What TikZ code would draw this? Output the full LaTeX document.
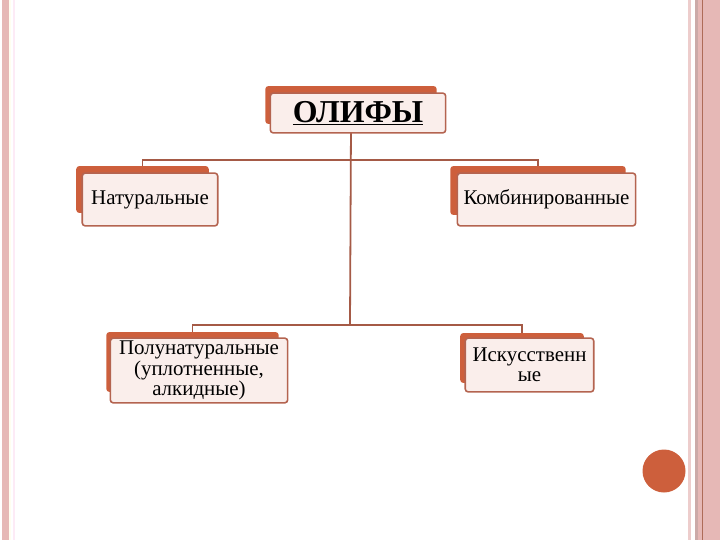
\documentclass[tikz,border=0pt]{standalone}
\usepackage{fontspec}
\setmainfont{Liberation Serif}
\usepackage{xcolor}
\usetikzlibrary{positioning}
\definecolor{backred}{HTML}{CD5F3C}
\definecolor{boxfill}{HTML}{FAEEEB}
\definecolor{boxline}{HTML}{B46450}
\definecolor{linkcol}{HTML}{A55A46}
\definecolor{stripe}{HTML}{E6B8B6}
\tikzset{
  backbox/.style={fill=backred,rounded corners=3,inner sep=0},
  frontbox/.style={draw=boxline,fill=boxfill,line width=1.6,rounded corners=3,
    inner sep=0,align=center,font=\fontsize{21}{20.5}\selectfont},
  link/.style={draw=linkcol,line width=1.8}
}
\begin{document}
\begin{tikzpicture}[x=1bp,y=-1bp]
\useasboundingbox(0,0)rectangle(720,540);
% side stripes
\fill[stripe](2,0)rectangle(8.5,540);
\fill[yellow!6](9,0)rectangle(10.5,540);
\fill[magenta!8](13,0)rectangle(15,540);
\fill[stripe!70](688,0)rectangle(690.5,540);
\fill[gray!25!stripe](695,0)rectangle(697.5,540);
\fill[stripe](698,0)rectangle(720,540);
\fill[linkcol!90](702,0)rectangle(703.2,540);
\fill[backred](664,471)circle(21.5);
% back boxes
\node[backbox,minimum width=172,minimum height=38](olify)at(351,105){};
\node[backbox,minimum width=133,minimum height=47](nat)at(142.5,189.5){};
\node[backbox,minimum width=176,minimum height=49](komb)at(538,190.5){};
\node[backbox,minimum width=173,minimum height=60](poly)at(192.5,362){};
\node[backbox,minimum width=124,minimum height=50](isk)at(522,358){};
% links
\coordinate(j1)at(350,160);
\coordinate(j2)at(350,325);
\draw[link](olify.south)--(j2);
\draw[link](nat.north)|-(j1)-|(komb.north);
\draw[link](poly.north)|-(j2)-|(isk.north);
% front boxes
\node[frontbox,minimum width=176,minimum height=40,
  font=\fontsize{32}{32}\selectfont\bfseries](olifyT)at(358,113){\underline{ОЛИФЫ}};
\node[frontbox,minimum width=136,minimum height=53](natT)at(150,199.5){Натуральные};
\node[frontbox,minimum width=179,minimum height=53](kombT)at(546.5,199.5){Комбинированные};
\node[frontbox,minimum width=178,minimum height=65](polyT)at(199,370.5)
  {Полунатуральные\\(уплотненные,\\алкидные)};
\node[frontbox,minimum width=129,minimum height=54](iskT)at(529.5,365){Искусственн\\ые};
\end{tikzpicture}
\end{document}
